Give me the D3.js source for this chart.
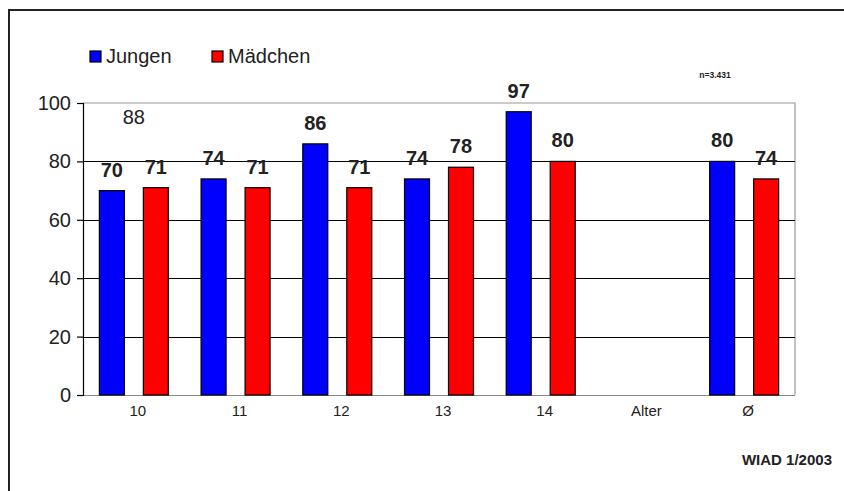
<!DOCTYPE html>
<html>
<head>
<meta charset="utf-8">
<script src="https://cdn.jsdelivr.net/npm/d3@7"></script>
<style>
    body { margin: 0; background: #fff; }
    svg { display: block; font-family: 'Liberation Sans', Arial, sans-serif; }
</style>
</head>
<body>
<div id="chart"></div>
<script>
// chart data
var categories = ['10', '11', '12', '13', '14', 'Alter', 'Ø'];
var seriesNames = ['Jungen', 'Mädchen'];
var jungen = [70, 74, 86, 74, 97, null, 80];
var maedchen = [71, 71, 71, 78, 80, null, 74];
var yTicks = [0, 20, 40, 60, 80, 100];
// loose label sitting over the first group
var strayLabel = { category: '10', value: 88 };

var colors = { 'Jungen': '#0000ff', 'Mädchen': '#ff0000' };

// svg area
var svgWidth = 844;
var svgHeight = 491;

// plot area inside the frame
var plot = { left: 83, right: 795, top: 103, bottom: 395 };

var svg = d3.select('#chart')
    .append('svg')
    .attr('width', svgWidth)
    .attr('height', svgHeight);

// outer frame (left and top edges only show)
svg.append('path')
    .attr('d', `M9,${svgHeight} V10 H${svgWidth}`)
    .attr('fill', 'none')
    .attr('stroke', '#222')
    .attr('stroke-width', 2);

// scales
var xScale = d3.scaleBand()
    .domain(categories)
    .range([plot.left, plot.right]);

var xInner = d3.scaleBand()
    .domain(seriesNames)
    .range([0, xScale.step()])
    .paddingInner(0.432)
    .paddingOuter(0.372);

var yScale = d3.scaleLinear()
    .domain([0, 100])
    .range([plot.bottom, plot.top]);

// plot box right + top in grey
svg.append('path')
    .attr('d', `M${plot.left},${plot.top} H${plot.right} V${plot.bottom}`)
    .attr('fill', 'none')
    .attr('stroke', '#999')
    .attr('stroke-width', 1.2);

// gridlines
svg.append('g')
    .selectAll('line')
    .data(yTicks.filter(d => d > 0 && d < 100))
    .enter()
    .append('line')
    .attr('x1', plot.left)
    .attr('x2', plot.right)
    .attr('y1', d => Math.round(yScale(d)) + 0.5)
    .attr('y2', d => Math.round(yScale(d)) + 0.5)
    .attr('stroke', '#000')
    .attr('stroke-width', 1.2);

// bottom baseline
svg.append('line')
    .attr('x1', plot.left)
    .attr('x2', plot.right)
    .attr('y1', plot.bottom + 0.5)
    .attr('y2', plot.bottom + 0.5)
    .attr('stroke', '#888')
    .attr('stroke-width', 1.2);

// flatten data for bars
var barData = [];
categories.forEach((c, i) => {
    if (jungen[i] != null) barData.push({ cat: c, series: 'Jungen', value: jungen[i] });
    if (maedchen[i] != null) barData.push({ cat: c, series: 'Mädchen', value: maedchen[i] });
});

// bars
svg.append('g')
    .selectAll('rect')
    .data(barData)
    .enter()
    .append('rect')
    .attr('x', d => xScale(d.cat) + xInner(d.series))
    .attr('y', d => yScale(d.value))
    .attr('width', xInner.bandwidth())
    .attr('height', d => yScale(0) - yScale(d.value))
    .attr('fill', d => colors[d.series])
    .attr('stroke', '#000')
    .attr('stroke-width', 1.2);

// value labels
svg.append('g')
    .selectAll('text')
    .data(barData)
    .enter()
    .append('text')
    .attr('x', d => xScale(d.cat) + xInner(d.series) + xInner.bandwidth() / 2)
    .attr('y', d => yScale(d.value) - 14)
    .attr('text-anchor', 'middle')
    .attr('font-size', 20)
    .attr('font-weight', 'bold')
    .attr('fill', '#222')
    .text(d => d.value);

svg.append('text')
    .attr('x', xScale(strayLabel.category) + xScale.bandwidth() / 2)
    .attr('y', yScale(strayLabel.value) - 14)
    .attr('text-anchor', 'middle')
    .attr('font-size', 20)
    .attr('fill', '#222')
    .text(strayLabel.value);

// left axis
var leftAxis = d3.axisLeft(yScale)
    .tickValues(yTicks)
    .tickSize(6)
    .tickPadding(6);

var yAxis = svg.append('g')
    .attr('transform', `translate(${plot.left}, 0)`)
    .call(leftAxis);

yAxis.select('.domain').attr('stroke', '#000').attr('stroke-width', 1.2);
yAxis.selectAll('.tick line').attr('stroke', '#000').attr('stroke-width', 1.2);
yAxis.selectAll('.tick text')
    .attr('font-size', 20)
    .attr('font-family', 'Liberation Sans, Arial, sans-serif')
    .attr('fill', '#222');

// bottom axis labels
var bottomAxis = d3.axisBottom(xScale)
    .tickSize(0)
    .tickPadding(10);

var xAxis = svg.append('g')
    .attr('transform', `translate(4, ${plot.bottom})`)
    .call(bottomAxis);

xAxis.select('.domain').remove();
xAxis.selectAll('.tick text')
    .attr('font-size', 15)
    .attr('font-family', 'Liberation Sans, Arial, sans-serif')
    .attr('fill', '#222');

// legend
var legend = svg.append('g')
    .selectAll('g')
    .data(seriesNames)
    .enter()
    .append('g')
    .attr('transform', (d, i) => `translate(${[90, 212][i]}, 51)`);

legend.append('rect')
    .attr('width', 11)
    .attr('height', 11)
    .attr('y', 0)
    .attr('fill', d => colors[d])
    .attr('stroke', '#000')
    .attr('stroke-width', 1.2);

legend.append('text')
    .attr('x', 16)
    .attr('y', 12)
    .attr('font-size', 20)
    .attr('fill', '#222')
    .text(d => d);

// notes
svg.append('text')
    .attr('x', 715)
    .attr('y', 78)
    .attr('text-anchor', 'middle')
    .attr('font-size', 8.5)
    .attr('font-weight', 'bold')
    .attr('fill', '#222')
    .text('n=3.431');

svg.append('text')
    .attr('x', 832)
    .attr('y', 465)
    .attr('text-anchor', 'end')
    .attr('font-size', 15)
    .attr('font-weight', 'bold')
    .attr('fill', '#222')
    .text('WIAD 1/2003');
</script>
</body>
</html>
